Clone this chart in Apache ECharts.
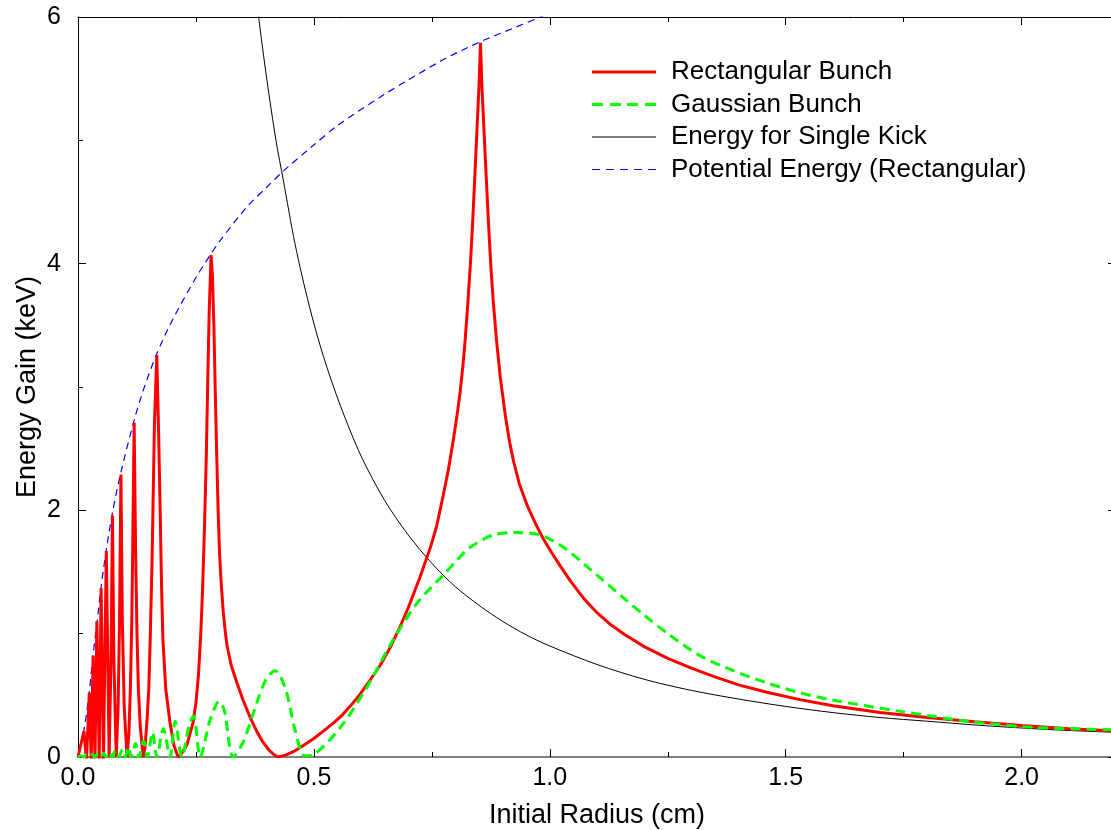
<!DOCTYPE html>
<html>
<head>
<meta charset="utf-8">
<script src="https://cdn.jsdelivr.net/npm/echarts@6/dist/echarts.min.js"></script>
<style>
html,body{margin:0;padding:0;background:#fff;}
#chart{width:1111px;height:830px;}
</style>
</head>
<body>
<div id="chart"></div>
<script>
// ---- data ----
const seriesNames = ['Rectangular Bunch', 'Gaussian Bunch', 'Energy for Single Kick', 'Potential Energy (Rectangular)'];
const xTickLabels = ['0.0', '0.5', '1.0', '1.5', '2.0'];
const yTickLabels = ['0', '2', '4', '6'];

const rectangularBunch = [
  [0,0],[0.0127,0.21],[0.018,-0.03],[0.024,0.52],[0.028,-0.03],[0.032,0.82],[0.036,-0.03],
  [0.040,1.10],[0.045,-0.02],[0.049,1.37],[0.054,-0.02],[0.060,1.67],[0.066,0],
  [0.070,0.8],[0.073,1.96],[0.076,0.8],[0.081,0],
  [0.085,0.4],[0.088,1.1],[0.091,2.29],[0.094,1.1],[0.098,0.4],[0.104,0],
  [0.108,0.2],[0.111,0.55],[0.114,1.1],[0.116,1.7],[0.119,2.71],[0.122,1.7],[0.125,1.0],[0.128,0.55],[0.132,0.25],[0.138,0],
  [0.142,0.08],[0.146,0.28],[0.150,0.55],[0.153,0.95],[0.157,1.6],[0.159,2.03],[0.162,2.7],[0.167,3.26],
  [0.171,2.6],[0.174,2.03],[0.177,1.4],[0.180,0.95],[0.186,0.55],[0.195,0.28],[0.203,0.1],[0.212,0],
  [0.220,0.03],[0.231,0.10],[0.244,0.28],[0.250,0.44],[0.255,0.65],[0.260,0.98],[0.264,1.35],[0.268,1.85],
  [0.272,2.45],[0.275,3.05],[0.278,3.6],[0.282,4.07],[0.285,3.9],[0.288,3.5],[0.291,2.95],[0.294,2.45],
  [0.297,2.0],[0.300,1.65],[0.304,1.38],[0.308,1.17],[0.312,1.02],[0.316,0.90],[0.325,0.74],[0.337,0.60],
  [0.350,0.46],[0.365,0.32],[0.380,0.20],[0.392,0.12],[0.405,0.055],[0.415,0.02],[0.424,0],
  [0.44,0.015],[0.46,0.05],[0.48,0.10],[0.50,0.15],[0.52,0.21],[0.541,0.275],[0.56,0.34],[0.58,0.425],
  [0.60,0.52],[0.613,0.59],[0.64,0.74],[0.662,0.89],[0.683,1.06],[0.70,1.21],[0.710,1.31],[0.725,1.46],
  [0.747,1.70],[0.76,1.87],[0.774,2.12],[0.785,2.33],[0.795,2.56],[0.803,2.76],[0.810,2.96],[0.816,3.18],
  [0.821,3.40],[0.827,3.72],[0.832,4.02],[0.836,4.30],[0.841,4.70],[0.846,5.12],[0.850,5.45],[0.853,5.79],
  [0.856,5.45],[0.860,5.12],[0.865,4.72],[0.870,4.33],[0.875,3.98],[0.880,3.70],[0.887,3.38],[0.895,3.08],
  [0.906,2.76],[0.915,2.55],[0.923,2.40],[0.935,2.22],[0.952,2.04],[0.970,1.89],[0.986,1.77],[1.005,1.65],
  [1.022,1.55],[1.045,1.42],[1.071,1.29],[1.10,1.17],[1.13,1.07],[1.16,0.99],[1.20,0.895],[1.25,0.80],
  [1.30,0.72],[1.35,0.65],[1.40,0.585],[1.46,0.525],[1.53,0.465],[1.60,0.415],[1.70,0.36],[1.80,0.32],
  [1.90,0.285],[2.0,0.255],[2.1,0.23],[2.2,0.21]
];

const gaussianBunch = [
  [0,0],[0.006,0.01],[0.012,0],[0.018,0.02],[0.024,0],[0.030,0.02],[0.036,0],[0.042,0.03],[0.048,0],
  [0.054,0.03],[0.060,0],[0.066,0.04],[0.072,0],[0.079,0.05],[0.086,0],[0.094,0.06],[0.100,0],
  [0.107,0.08],[0.113,0],[0.122,0.11],[0.129,0],[0.139,0.13],[0.147,0],[0.158,0.20],[0.167,0],
  [0.181,0.23],[0.195,0],[0.206,0.29],[0.220,0],[0.237,0.28],[0.245,0.33],[0.259,0],[0.28,0.3],
  [0.299,0.45],[0.31,0.38],[0.329,0],[0.35,0.12],[0.38,0.45],[0.40,0.64],[0.418,0.70],[0.44,0.55],
  [0.46,0.22],[0.48,0.01],[0.499,0.02],[0.556,0.24],[0.613,0.57],[0.668,0.95],[0.719,1.25],[0.778,1.49],
  [0.804,1.60],[0.831,1.70],[0.880,1.80],[0.931,1.82],[0.980,1.80],[1.029,1.70],[1.080,1.54],[1.150,1.31],
  [1.2,1.15],[1.25,1.0],[1.319,0.82],[1.389,0.70],[1.461,0.60],[1.531,0.52],[1.601,0.46],[1.743,0.37],
  [1.885,0.29],[2.025,0.24],[2.2,0.22]
];

const singleKickEnergy = [
  [0.36,6.8],[0.382,6.03],[0.40,5.5],[0.42,4.99],[0.435,4.68],[0.46,4.16],[0.49,3.66],[0.52,3.25],
  [0.556,2.85],[0.60,2.44],[0.65,2.08],[0.70,1.80],[0.75,1.57],[0.80,1.38],[0.85,1.23],[0.90,1.10],
  [0.95,0.99],[1.0,0.90],[1.1,0.75],[1.2,0.63],[1.3,0.54],[1.4,0.47],[1.5,0.41],[1.6,0.36],[1.7,0.32],
  [1.8,0.29],[1.9,0.26],[2.0,0.235],[2.1,0.215],[2.2,0.20]
];

const potentialEnergy = [
  [0,0],[0.0127,0.22],[0.024,0.53],[0.032,0.83],[0.040,1.08],[0.049,1.38],[0.060,1.68],[0.073,1.98],
  [0.091,2.31],[0.119,2.73],[0.138,2.97],[0.167,3.27],[0.201,3.55],[0.252,3.90],[0.282,4.08],[0.30,4.18],
  [0.358,4.46],[0.40,4.62],[0.435,4.75],[0.499,4.96],[0.55,5.12],[0.640,5.35],[0.70,5.49],[0.782,5.67],
  [0.853,5.80],[0.923,5.91],[0.98,6.0],[1.05,6.12]
];

// ---- chart ----
const FONT = '"Liberation Sans", Arial, Helvetica, sans-serif';
const chart = echarts.init(document.getElementById('chart'), null, {renderer: 'canvas'});

const xFmt = v => {
  const s = v.toFixed(1);
  return xTickLabels.indexOf(s) >= 0 && Math.abs(v - parseFloat(s)) < 1e-6 ? s : '';
};
const yFmt = v => {
  const s = String(Math.round(v));
  return yTickLabels.indexOf(s) >= 0 ? s : '';
};

// legend icons: thin bars, dashed where the series is dashed
const legendIcons = [
  'path://M0,0h64v3h-64z',
  'path://M0,0h11v3h-11zM18,0h11v3h-11zM35,0h11v3h-11zM53,0h11v3h-11z',
  'path://M0,0h64v1h-64z',
  'path://M0,0h8v1h-8zM14,0h8v1h-8zM28,0h8v1h-8zM42,0h8v1h-8zM56,0h8v1h-8z'
];

const baseX = {
  type: 'value', min: 0, max: 2.2, interval: 0.5,
  splitLine: {show: false},
  axisTick: {show: true, inside: true, length: 8, lineStyle: {color: '#000', width: 1}},
  minorTick: {show: true, splitNumber: 2, length: 5, lineStyle: {color: '#000', width: 1}},
  minorSplitLine: {show: false}
};
const baseY = {
  type: 'value', min: 0, max: 6, interval: 2,
  splitLine: {show: false},
  axisTick: {show: true, inside: true, length: 8, lineStyle: {color: '#000', width: 1}},
  minorTick: {show: true, splitNumber: 2, length: 5, lineStyle: {color: '#000', width: 1}},
  minorSplitLine: {show: false}
};

const option = {
  backgroundColor: '#fff',
  animation: false,
  grid: {left: 78, top: 17, width: 1038, height: 740, containLabel: false, outerBoundsMode: 'none'},
  legend: {
    orient: 'vertical', left: 587, top: 54,
    itemWidth: 64, itemHeight: 14, itemGap: 6.5,
    symbolKeepAspect: true,
    itemStyle: {borderWidth: 0},
    data: seriesNames.map((n, i) => ({name: n, icon: legendIcons[i]})),
    textStyle: {fontFamily: FONT, fontSize: 26, color: '#000', lineHeight: 26, padding: [0, 0, 0, 10]}
  },
  xAxis: [
    Object.assign({}, baseX, {
      position: 'bottom',
      name: 'Initial Radius (cm)', nameLocation: 'middle', nameGap: 45,
      nameTextStyle: {fontFamily: FONT, fontSize: 27, color: '#000'},
      axisLine: {show: true, onZero: false, lineStyle: {color: '#808080', width: 2}},
      axisLabel: {show: true, margin: 9, fontFamily: FONT, fontSize: 25, color: '#000',
        showMaxLabel: false, formatter: xFmt}
    }),
    Object.assign({}, baseX, {
      position: 'top',
      axisLine: {show: true, onZero: false, lineStyle: {color: '#000', width: 1}},
      axisLabel: {show: false}
    })
  ],
  yAxis: [
    Object.assign({}, baseY, {
      position: 'left',
      name: 'Energy Gain (keV)', nameLocation: 'middle', nameGap: 37, nameRotate: 90,
      nameMoveOverlap: false,
      nameTextStyle: {fontFamily: FONT, fontSize: 27, color: '#000'},
      axisLine: {show: true, onZero: false, lineStyle: {color: '#000', width: 1}},
      axisLabel: {show: true, margin: 17, fontFamily: FONT, fontSize: 25, color: '#000', formatter: yFmt}
    }),
    Object.assign({}, baseY, {
      position: 'right',
      axisLine: {show: true, onZero: false, lineStyle: {color: '#000', width: 1}},
      minorTick: {show: false},
      axisLabel: {show: false}
    })
  ],
  series: [
    {name: seriesNames[0], type: 'line', data: rectangularBunch, showSymbol: false, symbol: 'none',
      smooth: false, lineStyle: {color: '#ff0000', width: 3}, itemStyle: {color: '#ff0000'}, z: 3},
    {name: seriesNames[1], type: 'line', data: gaussianBunch, showSymbol: false, symbol: 'none',
      smooth: 0.3, lineStyle: {color: '#00ff00', width: 3, type: [10, 6]}, itemStyle: {color: '#00ff00'}, z: 4},
    {name: seriesNames[2], type: 'line', data: singleKickEnergy, showSymbol: false, symbol: 'none',
      smooth: 0.3, lineStyle: {color: '#000000', width: 1}, itemStyle: {color: '#000000'}, z: 2},
    {name: seriesNames[3], type: 'line', data: potentialEnergy, showSymbol: false, symbol: 'none',
      smooth: 0.3, lineStyle: {color: '#0000ff', width: 1.2, type: [7, 5]}, itemStyle: {color: '#0000ff'}, z: 2}
  ]
};
chart.setOption(option);
</script>
</body>
</html>
